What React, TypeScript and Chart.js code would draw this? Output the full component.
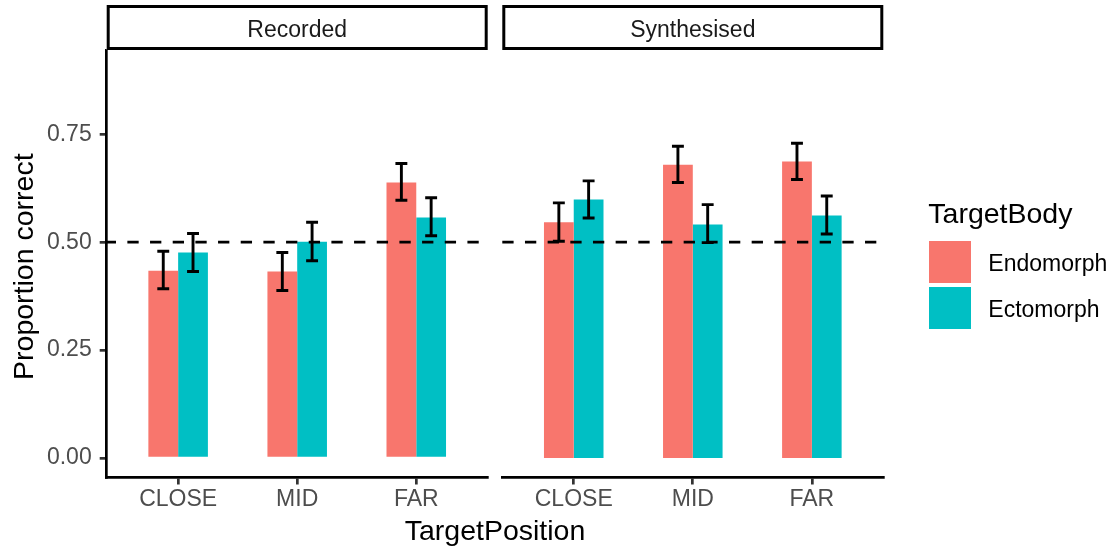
import React, { useEffect, useRef } from 'react';
import { Chart, registerables } from 'chart.js';

Chart.register(...registerables);

// ---------- data ----------
const panels = ['Recorded', 'Synthesised'];
const positions = ['CLOSE', 'MID', 'FAR'];
const positionX = [1, 2, 3];
const bodyLabels = ['Endomorph', 'Ectomorph'];
const bodyColors = ['#F8766D', '#00BFC4'];
const yTicks = [0, 0.25, 0.5, 0.75];
const chanceLevel = 0.5;

const recordedEndo = [0.434, 0.432, 0.638];
const recordedEndoLow = [0.392, 0.388, 0.597];
const recordedEndoHigh = [0.479, 0.476, 0.682];
const recordedEcto = [0.476, 0.501, 0.557];
const recordedEctoLow = [0.432, 0.457, 0.515];
const recordedEctoHigh = [0.520, 0.546, 0.603];

const synthEndo = [0.546, 0.679, 0.687];
const synthEndoLow = [0.502, 0.638, 0.645];
const synthEndoHigh = [0.591, 0.722, 0.729];
const synthEcto = [0.599, 0.541, 0.562];
const synthEctoLow = [0.556, 0.499, 0.519];
const synthEctoHigh = [0.642, 0.587, 0.607];

const xTitle = 'TargetPosition';
const yTitle = 'Proportion correct';
const legendTitle = 'TargetBody';

// ---------- layout ----------
const W = 1114;
const H = 549;
const FONT = '"Liberation Sans", Arial, Helvetica, sans-serif';
const PANEL_TOP = 50;
const PANEL_BOTTOM = 477.5;
const PANEL_BOUNDS = [
  { left: 106.7, right: 487.7, dashOffset: 2 },
  { left: 502.3, right: 883.3, dashOffset: 0 },
];

const errorBarPlugin = {
  id: 'errorBars',
  afterDatasetsDraw(chart: any, _args: any, opts: any) {
    const { ctx, scales, chartArea } = chart;
    const x = scales.x;
    const y = scales.y;
    ctx.save();
    // chance-level dashed line
    ctx.strokeStyle = '#000000';
    ctx.lineWidth = 2.8;
    ctx.setLineDash([11.3, 11.37]);
    ctx.lineDashOffset = opts.dashOffset || 0;
    const yy = y.getPixelForValue(chanceLevel);
    ctx.beginPath();
    ctx.moveTo(chartArea.left, yy);
    ctx.lineTo(chartArea.right, yy);
    ctx.stroke();
    ctx.setLineDash([]);
    // error bars
    ctx.lineWidth = 2.9;
    const half = (x.getPixelForValue(1.05) - x.getPixelForValue(0.95)) / 2;
    chart.data.datasets.forEach((ds: any, di: number) => {
      const meta = chart.getDatasetMeta(di);
      meta.data.forEach((bar: any, i: number) => {
        const lo = y.getPixelForValue(ds.errLow[i]);
        const hi = y.getPixelForValue(ds.errHigh[i]);
        const cx = bar.x;
        ctx.beginPath();
        ctx.moveTo(cx, lo);
        ctx.lineTo(cx, hi);
        ctx.moveTo(cx - half, lo);
        ctx.lineTo(cx + half, lo);
        ctx.moveTo(cx - half, hi);
        ctx.lineTo(cx + half, hi);
        ctx.stroke();
      });
    });
    ctx.restore();
  },
};

const decorPlugin = {
  id: 'decor',
  afterDraw(chart: any, _args: any, opts: any) {
    if (!opts.enabled) return;
    const { ctx } = chart;
    ctx.save();
    // strips
    PANEL_BOUNDS.forEach((p, i) => {
      ctx.fillStyle = '#FFFFFF';
      ctx.fillRect(p.left, 5, p.right - p.left, 45);
      ctx.strokeStyle = '#000000';
      ctx.lineWidth = 3;
      ctx.strokeRect(p.left + 1.5, 6.5, p.right - p.left - 3, 42);
      ctx.fillStyle = '#1A1A1A';
      ctx.font = `23px ${FONT}`;
      ctx.textAlign = 'center';
      ctx.textBaseline = 'alphabetic';
      ctx.fillText(panels[i], (p.left + p.right) / 2, 36.7);
    });
    // axis titles
    ctx.fillStyle = '#000000';
    ctx.font = `28.5px ${FONT}`;
    ctx.textAlign = 'center';
    ctx.textBaseline = 'alphabetic';
    ctx.fillText(xTitle, (PANEL_BOUNDS[0].left + PANEL_BOUNDS[1].right) / 2, 540);
    ctx.save();
    ctx.translate(33.3, 266.7);
    ctx.rotate(-Math.PI / 2);
    ctx.fillText(yTitle, 0, 0);
    ctx.restore();
    // legend
    ctx.textAlign = 'left';
    ctx.font = `28.5px ${FONT}`;
    ctx.fillText(legendTitle, 928.3, 223.3);
    const keyTops = [241, 287];
    const labelBase = [271, 316.7];
    bodyLabels.forEach((lab, i) => {
      ctx.fillStyle = bodyColors[i];
      ctx.fillRect(929, keyTops[i], 42, 42);
      ctx.fillStyle = '#000000';
      ctx.font = `23px ${FONT}`;
      ctx.fillText(lab, 988.3, labelBase[i]);
    });
    ctx.restore();
  },
};

function buildConfig(side: number): any {
  const bounds = PANEL_BOUNDS[side];
  const endo = side === 0 ? recordedEndo : synthEndo;
  const endoLow = side === 0 ? recordedEndoLow : synthEndoLow;
  const endoHigh = side === 0 ? recordedEndoHigh : synthEndoHigh;
  const ecto = side === 0 ? recordedEcto : synthEcto;
  const ectoLow = side === 0 ? recordedEctoLow : synthEctoLow;
  const ectoHigh = side === 0 ? recordedEctoHigh : synthEctoHigh;
  const gridOpts = {
    display: true,
    drawOnChartArea: false,
    drawTicks: true,
    tickLength: 7,
    offset: false,
    color: '#333333',
    tickColor: '#333333',
    lineWidth: 2.7,
    tickWidth: 2.7,
  };
  return {
    type: 'bar',
    data: {
      datasets: [
        {
          label: bodyLabels[0],
          data: positionX.map((x, i) => ({ x, y: endo[i] })),
          backgroundColor: bodyColors[0],
          borderWidth: 0,
          categoryPercentage: 0.5,
          barPercentage: 1,
          errLow: endoLow,
          errHigh: endoHigh,
        },
        {
          label: bodyLabels[1],
          data: positionX.map((x, i) => ({ x, y: ecto[i] })),
          backgroundColor: bodyColors[1],
          borderWidth: 0,
          categoryPercentage: 0.5,
          barPercentage: 1,
          errLow: ectoLow,
          errHigh: ectoHigh,
        },
      ],
    },
    options: {
      responsive: false,
      animation: false,
      devicePixelRatio: 1,
      events: [],
      layout: {
        padding: {
          left: side === 0 ? 0 : bounds.left,
          right: W - bounds.right,
          top: PANEL_TOP,
          bottom: 0,
        },
      },
      plugins: {
        legend: { display: false },
        tooltip: { enabled: false },
        title: { display: false },
        errorBars: { dashOffset: bounds.dashOffset },
        decor: { enabled: side === 0 },
      },
      scales: {
        x: {
          type: 'linear',
          min: 0.4,
          max: 3.6,
          offset: false,
          afterBuildTicks: (s: any) => {
            s.ticks = positionX.map((v) => ({ value: v }));
          },
          afterFit: (s: any) => {
            s.height = H - PANEL_BOTTOM;
          },
          ticks: {
            autoSkip: false,
            maxRotation: 0,
            minRotation: 0,
            padding: 1,
            color: '#4D4D4D',
            font: { family: FONT, size: 23 },
            callback: (v: any) => positions[positionX.indexOf(v)],
          },
          grid: gridOpts,
          border: { display: true, color: '#000000', width: 2.7 },
        },
        y: {
          type: 'linear',
          display: side === 0,
          min: -0.045,
          max: 0.945,
          afterBuildTicks: (s: any) => {
            s.ticks = yTicks.map((v) => ({ value: v }));
          },
          afterFit: (s: any) => {
            s.width = side === 0 ? PANEL_BOUNDS[0].left : 0;
          },
          ticks: {
            padding: 8,
            color: '#4D4D4D',
            font: { family: FONT, size: 23 },
            callback: (v: any) => Number(v).toFixed(2),
          },
          grid: gridOpts,
          border: { display: true, color: '#000000', width: 2.7 },
        },
      },
    },
    plugins: [errorBarPlugin, decorPlugin],
  };
}

export default function App() {
  const leftRef = useRef<HTMLCanvasElement>(null);
  const rightRef = useRef<HTMLCanvasElement>(null);

  useEffect(() => {
    const charts: Chart[] = [];
    if (leftRef.current) charts.push(new Chart(leftRef.current, buildConfig(0)));
    if (rightRef.current) charts.push(new Chart(rightRef.current, buildConfig(1)));
    return () => {
      charts.forEach((c) => c.destroy());
    };
  }, []);

  const canvasStyle: React.CSSProperties = {
    position: 'absolute',
    left: 0,
    top: 0,
    width: W,
    height: H,
  };

  return (
    <div style={{ position: 'absolute', left: 0, top: 0, width: W, height: H, background: '#FFFFFF' }}>
      <canvas ref={leftRef} width={W} height={H} style={canvasStyle} />
      <canvas ref={rightRef} width={W} height={H} style={canvasStyle} />
    </div>
  );
}
